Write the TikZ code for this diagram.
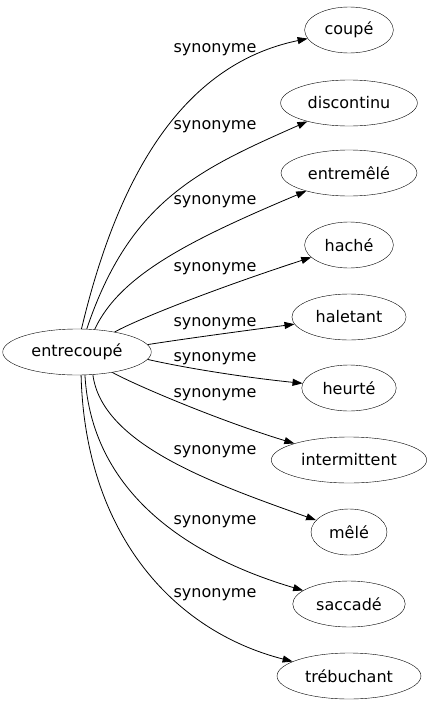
\documentclass[tikz,border=0pt]{standalone}
\usepackage{fontspec}
\setmainfont{DejaVu Sans}
\usetikzlibrary{shapes.geometric,arrows.meta}

\begin{document}
\begin{tikzpicture}[x=1pt,y=-1pt,
    word/.style={draw,ellipse,minimum height=46pt,inner xsep=7pt,inner ysep=2pt,font=\fontsize{16}{19}\selectfont},
    rel/.style={font=\fontsize{16}{19}\selectfont,inner sep=0pt},
    edge/.style={-{Triangle[length=10pt,width=7pt]},line width=0.8pt}]
        \useasboundingbox (0,0) rectangle (429,707);
        \node[word] (root) at (77,352) {entrecoupé};
        \node[word] (coupe) at (349,30) {coupé};
        \node[word] (discontinu) at (349,103) {discontinu};
        \node[word] (entremele) at (349,173) {entremêlé};
        \node[word] (hache) at (349,245) {haché};
        \node[word] (haletant) at (349,317) {haletant};
        \node[word] (heurte) at (349,388) {heurté};
        \node[word] (intermittent) at (349,460) {intermittent};
        \node[word] (mele) at (349,532) {mêlé};
        \node[word] (saccade) at (349,604) {saccadé};
        \node[word] (trebuchant) at (349,676) {trébuchant};
          % labels
          \node[rel] (l1) at (215,50) {synonyme};
          \node[rel] (l2) at (215,127) {synonyme};
          \node[rel] (l3) at (215,202) {synonyme};
          \node[rel] (l4) at (215,269) {synonyme};
          \node[rel] (l5) at (215,324) {synonyme};
          \node[rel] (l6) at (215,359) {synonyme};
          \node[rel] (l7) at (215,395) {synonyme};
          \node[rel] (l8) at (215,452) {synonyme};
          \node[rel] (l9) at (215,522) {synonyme};
          \node[rel] (l10) at (215,595) {synonyme};
          % edges
          \draw[edge] (root.79) .. controls (117,180) and (180,65) .. (coupe);
          \draw[edge] (root.67) .. controls (130,200) and (200,169) .. (discontinu);
          \draw[edge] (root.52) .. controls (120,275) and (190,240) .. (entremele);
          \draw[edge] (root.28) .. controls (140,318) and (220,287) .. (hache);
          \draw[edge] (root.6) .. controls (190,338) and (250,330) .. (haletant);
          \draw[edge] (root.-6) .. controls (190,369) and (250,378) .. (heurte);
          \draw[edge] (root.-30) .. controls (135,385) and (220,421) .. (intermittent);
          \draw[edge] (root.-55) .. controls (102,445) and (215,484) .. (mele);
          \draw[edge] (root.-71) .. controls (92,500) and (200,560) .. (saccade);
          \draw[edge] (root.-80) .. controls (85,530) and (170,630) .. (trebuchant);
      \end{tikzpicture}
\end{document}
